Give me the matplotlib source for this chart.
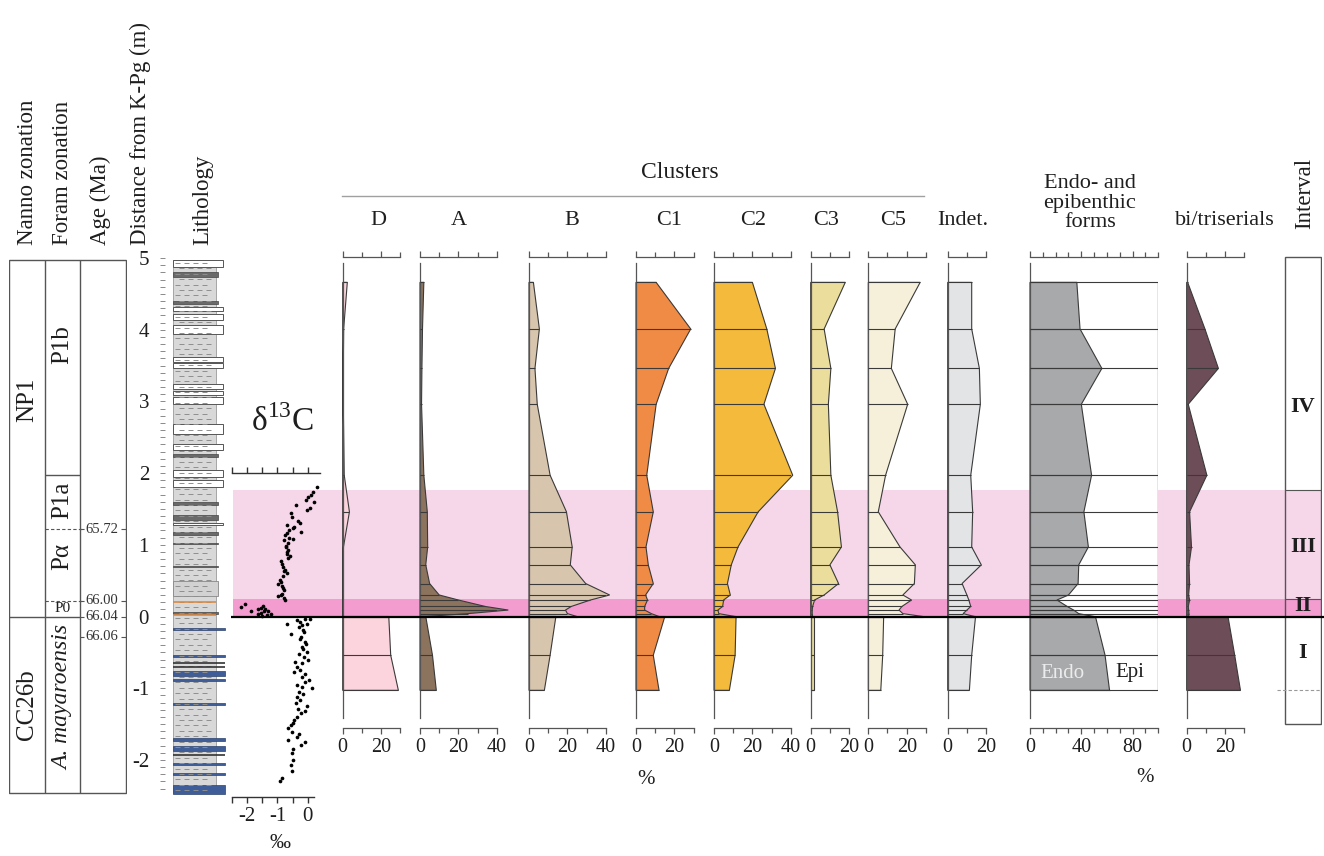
import matplotlib
matplotlib.use('Agg')
import matplotlib.pyplot as plt
from matplotlib.patches import Rectangle
import numpy as np

plt.rcParams['font.family'] = ['Liberation Serif', 'DejaVu Serif']
plt.rcParams['axes.unicode_minus'] = False
plt.rcParams['mathtext.fontset'] = 'custom'
plt.rcParams['mathtext.rm'] = 'Liberation Serif'

W, H = 1324, 856
Y0, PXM = 616.5, 71.7   # pixel row of the K-Pg boundary, pixels per metre

# ---------------- data ----------------
sec_top, sec_bot = 4.97, -2.46

# sample depths (m from K-Pg) above and below the boundary
d_upper = [4.66, 4.01, 3.46, 2.96, 1.97, 1.46, 0.97, 0.72, 0.46, 0.30, 0.23, 0.14, 0.09, 0.04, 0.0]
d_lower = [0.0, -0.54, -1.03]

D_up = [2.4, 0.5, 0.3, 0.3, 0.8, 3.5, 0.4, 0.3, 0.3, 0.3, 0.2, 0.2, 0.2, 0.2, 0.2]
D_lo = [24, 25, 29]
A_up = [2, 1.3, 1, 0.8, 2, 3.8, 4, 3, 5, 10, 20, 34, 46, 25, 3]
A_lo = [3, 6.5, 8.5]
B_up = [2.3, 5.4, 3.1, 4.3, 11, 19.5, 22.5, 21.5, 29.5, 42, 32, 22, 19, 20, 25]
B_lo = [14, 11, 8]
C1_up = [10.5, 28.5, 17, 10.5, 5.6, 9, 5.2, 6.4, 9, 5, 6, 4.5, 4.5, 8, 12]
C1_lo = [15, 9, 12]
C2_up = [20, 27.5, 32, 26, 41, 23, 12.5, 9, 7, 8.5, 5, 4.5, 2, 2.5, 11]
C2_lo = [11.5, 11, 8]
C3_up = [18, 7, 10.5, 9.2, 10.5, 14, 16, 10, 14.5, 7, 2, 1, 0.8, 0.8, 1]
C3_lo = [1.5, 1.5, 1.5]
C5_up = [27, 14, 12, 20.5, 9, 5.2, 16.5, 24.5, 24, 18, 22.5, 17.5, 16, 18, 28.5]
C5_lo = [8, 7.5, 6.5]
Ind_up = [12.5, 12.5, 16.5, 17, 12, 13, 12.5, 17.5, 7.5, 10, 11, 12, 10, 8, 14]
Ind_lo = [14.5, 12.5, 11.3]
Endo_up = [36.5, 39, 56, 40, 48, 42, 45.5, 38, 37.5, 30, 21, 29, 34, 38, 50]
Endo_lo = [51, 58.5, 62]
Bi_up = [0.5, 9.5, 16.5, 0.8, 10.5, 1.5, 2.5, 1.2, 1.5, 1, 1.5, 0.8, 1, 1.2, 1]
Bi_lo = [21.5, 25, 28]

d13c_depth = [1.81, 1.73, 1.70, 1.67, 1.63, 1.59, 1.56, 1.52, 1.48, 1.45, 1.39, 1.33, 1.30, 1.28, 1.25,
              1.23, 1.21, 1.18, 1.16, 1.14, 1.10, 1.08, 1.07, 1.02, 0.99, 0.97, 0.93, 0.90, 0.87, 0.84,
              0.81, 0.77, 0.73, 0.69, 0.65, 0.63, 0.60, 0.56, 0.51, 0.48, 0.46, 0.43, 0.40, 0.37, 0.32,
              0.30, 0.28, 0.26, 0.23,
              0.18, 0.13, 0.07, 0.10, 0.15, 0.11, 0.05, 0.07, 0.02, 0.03, 0.01, 0.04, 0.12, 0.08,
              -0.03, -0.04, -0.05, -0.07, -0.10, -0.10, -0.12, -0.15, -0.19, -0.21, -0.24, -0.28, -0.32,
              -0.35, -0.38, -0.42, -0.45, -0.49, -0.52, -0.56, -0.60, -0.63, -0.65, -0.70, -0.75, -0.78,
              -0.80, -0.84, -0.88, -0.91, -0.95, -0.98, -1.00, -1.05, -1.08, -1.12, -1.17, -1.20, -1.25,
              -1.29, -1.32, -1.35, -1.40, -1.45, -1.49, -1.52, -1.56, -1.61, -1.64, -1.68, -1.72, -1.75,
              -1.79, -1.85, -1.91, -2.00, -2.07, -2.16, -2.25, -2.29]
d13c_val = [0.30, 0.19, 0.11, 0.02, -0.07, 0.22, -0.40, 0.08, -0.03, -0.55, -0.53, -0.33, -0.26, -0.70, -0.45,
            -0.48, -0.62, -0.22, -0.68, -0.75, -0.62, -0.48, -0.78, -0.64, -0.72, -0.72, -0.64, -0.68, -0.70, -0.60,
            -0.64, -0.90, -0.86, -0.81, -0.75, -0.78, -0.70, -0.81, -0.92, -0.90, -0.97, -0.84, -0.83, -0.78, -0.86,
            -0.90, -0.97, -0.80, -0.75,
            -2.08, -2.21, -1.88, -1.64, -1.47, -1.41, -1.54, -1.30, -1.36, -1.66, -1.50, -1.22, -1.55, -1.45,
            0.08, -0.09, -0.36, -0.26, -0.70, -0.03, -0.20, -0.30, -0.15, -0.12, -0.55, -0.22, -0.25,
            -0.09, -0.05, -0.18, -0.15, -0.03, -0.30, -0.11, 0.00, -0.42, -0.20, -0.36, -0.26, -0.45,
            -0.10, -0.18, 0.05, -0.09, -0.35, -0.20, 0.15, -0.29, -0.15, -0.36, -0.26, -0.40, -0.03,
            -0.31, -0.10, -0.22, -0.36, -0.45, -0.48, -0.55, -0.64, -0.53, -0.30, -0.36, -0.65, -0.10,
            -0.22, -0.50, -0.53, -0.48, -0.55, -0.53, -0.85, -0.91]

# lithology beds (bottom, top) in m
lime_beds = [(4.88, 4.97), (4.26, 4.31), (4.13, 4.22), (3.94, 4.07), (3.55, 3.62), (3.46, 3.53),
             (3.17, 3.24), (3.09, 3.15), (2.97, 3.06), (2.55, 2.69), (2.32, 2.41), (1.95, 2.04),
             (1.81, 1.91), (1.27, 1.31)]
dark_beds = [(4.74, 4.81), (4.36, 4.40), (2.22, 2.26), (1.55, 1.59), (1.34, 1.41), (1.14, 1.18),
             (1.01, 1.03), (0.69, 0.71), (0.04, 0.06)]
blue_beds = [(-0.19, -0.16), (-0.57, -0.54), (-0.83, -0.76), (-0.90, -0.87), (-1.23, -1.20),
             (-1.73, -1.70), (-1.87, -1.81), (-2.07, -2.04), (-2.21, -2.18), (-2.47, -2.35)]
black_lines = [-0.65, -0.70, -1.93]
orange_lines = [0.20, 0.02]

# zonation
foram_bounds_solid = [1.97, 0.0]
foram_bounds_dashed = [1.22, 0.22]
age_depth = [1.22, 0.22, 0.0, -0.28]
age_label = ['65.72', '66.00', '66.04', '66.06']

interval_bounds = [5.02, 1.76, 0.25, 0.0, -1.5]
interval_names = ['IV', 'III', 'II', 'I']
interval_label_d = [2.92, 0.97, 0.14, -0.51]
band_II = (0.0, 0.25)
band_III = (0.25, 1.76)

EDGE = '#3a3a3a'
TXT = '#1e1e1e'
AX = '#555555'

fig = plt.figure(figsize=(W / 100, H / 100), dpi=100)


def depth(ypx):
    return (Y0 - ypx) / PXM


def px_axes(x0, x1, top=230, bottom=835):
    ax = fig.add_axes([x0 / W, 1 - bottom / H, (x1 - x0) / W, (bottom - top) / H])
    ax.set_ylim(depth(bottom), depth(top))
    ax.patch.set_visible(False)
    return ax


# background pink bands
bg = px_axes(233, 1321)
bg.set_xlim(0, 1)
bg.axhspan(*band_II, color='#f29cd0', lw=0)
bg.axhspan(*band_III, color='#f6d6e9', lw=0)
bg.axis('off')

# ---------------- zonation table ----------------
zn = px_axes(9, 127)
zn.set_xlim(0, 118)
zn.axis('off')
zn.add_patch(Rectangle((0, sec_bot), 117, sec_top - sec_bot, fill=False, ec=AX, lw=1))
zn.vlines([36, 71], sec_bot, sec_top, color=AX, lw=1)
zn.hlines(0, 0, 71, color=AX, lw=1)
zn.hlines(foram_bounds_solid[0], 36, 71, color=AX, lw=1)
zn.hlines(foram_bounds_dashed, 36, 75, color=AX, lw=0.8, linestyles=(0, (3, 2)))
zn.hlines(age_depth, 71, 75, color=AX, lw=0.8)
zn.hlines(age_depth, 112, 117, color=AX, lw=0.8)
for d, lab in zip(age_depth, age_label):
    zn.text(76.5, d, lab, fontsize=10.5, color='#333', va='center', ha='left')
zn.text(18, depth(400), 'NP1', rotation=90, fontsize=18, ha='center', va='center', color=TXT)
zn.text(18, depth(705), 'CC26b', rotation=90, fontsize=18, ha='center', va='center', color=TXT)
zn.text(53.5, depth(345), 'P1b', rotation=90, fontsize=18, ha='center', va='center', color=TXT)
zn.text(53.5, depth(500), 'P1a', rotation=90, fontsize=18, ha='center', va='center', color=TXT)
zn.text(53.5, depth(557), 'Pα', rotation=90, fontsize=18, ha='center', va='center', color=TXT)
zn.text(53.5, depth(609), 'P0', fontsize=11, ha='center', va='center', color=TXT)
zn.text(53.5, depth(697), 'A. mayaroensis', rotation=90, fontsize=17, style='italic',
        ha='center', va='center', color=TXT)

# ---------------- lithology ----------------
li = px_axes(165, 232)
li.set_xlim(165, 232)
for s in ['top', 'right', 'bottom', 'left']:
    li.spines[s].set_visible(False)
li.set_xticks([])
li.add_patch(Rectangle((173, sec_bot), 43, sec_top - sec_bot, fc='#d8d8d8', ec='#9a9a9a', lw=0.6))
rows = np.arange(sec_bot + 0.04, sec_top - 0.02, 0.075)
for i, r in enumerate(rows):
    starts = np.arange(175 + (4 if i % 2 else 0), 211, 9)
    li.hlines(np.full(len(starts), r), starts, starts + 5, color='#8e8e8e', lw=0.7)
for b, t in lime_beds:
    li.add_patch(Rectangle((173, b), 50, t - b, fc='white', ec='#555', lw=0.7))
for b, t in dark_beds:
    li.add_patch(Rectangle((173, b), 45, t - b, fc='#6a6a6a', ec='#444', lw=0.5))
li.add_patch(Rectangle((173, 0.29), 45, 0.2, fc='#d2d2d2', ec='#888', lw=0.6))
for b, t in blue_beds:
    li.add_patch(Rectangle((173, b), 52, t - b, fc='#3f5d98', ec='#2c426e', lw=0.5))
li.hlines(black_lines, 173, 225, color='#333', lw=1.2)
li.hlines(orange_lines, 173, 216, color='#d98a45', lw=1.2)
li.set_yticks(np.arange(-2, 6, 1))
li.set_yticks(np.arange(-2.4, 5.0, 0.1), minor=True)
li.tick_params(axis='y', which='both', length=3.5, width=0.6, color='#777', direction='out')
li.tick_params(axis='y', which='major', labelsize=15, labelcolor=TXT, pad=8)

# ---------------- delta 13C ----------------
dc = px_axes(232, 322)
dc.set_xlim(-2.507, 0.474)
dc.scatter(d13c_val, d13c_depth, s=7, color='black', lw=0, zorder=3)
dc.spines['left'].set_visible(False)
dc.spines['right'].set_visible(False)
dc.spines['top'].set_position(('data', depth(473)))
dc.spines['top'].set_bounds(-2.5, 0.4)
dc.spines['bottom'].set_position(('data', depth(797)))
dc.spines['bottom'].set_bounds(-2.5, 0.2)
for s in dc.spines.values():
    s.set_color('#333')
    s.set_linewidth(1.0)
dc.set_xticks([-2, -1, 0])
dc.set_xticks(np.arange(-2.5, 0.45, 0.5), minor=True)
dc.tick_params(axis='x', which='both', top=True, bottom=True, direction='out', length=4,
               width=1.0, color='#333', labelsize=15, labelcolor=TXT, pad=3)
dc.set_yticks([])


# ---------------- percentage panels ----------------
def panel(x0, vmax, upper, lower, color, labels, px_per=1.92, step=10):
    ax = px_axes(x0, x0 + vmax * px_per)
    ax.set_xlim(0, vmax)
    for d, v in ((d_upper, upper), (d_lower, lower)):
        xs = np.r_[0, v, 0]
        ys = np.r_[d[0], d, d[-1]]
        ax.fill(xs, ys, fc=color, ec=EDGE, lw=0.8, clip_on=False, zorder=2)
        ax.hlines(d, 0, v, color=EDGE, lw=0.8, zorder=3)
    ax.spines['right'].set_visible(False)
    ax.spines['left'].set_bounds(depth(718), depth(263))
    ax.spines['top'].set_position(('data', depth(257)))
    ax.spines['top'].set_bounds(0, vmax)
    ax.spines['bottom'].set_position(('data', depth(728)))
    ax.spines['bottom'].set_bounds(0, vmax)
    for s in ax.spines.values():
        s.set_color(AX)
        s.set_linewidth(0.9)
    ax.set_xticks(labels)
    ax.set_xticks(np.arange(0, vmax + 0.1, step), minor=True)
    ax.tick_params(axis='x', which='both', top=True, bottom=True, direction='out',
                   color=AX, width=0.9, labelsize=14.5, labelcolor=TXT, pad=3)
    ax.tick_params(axis='x', which='major', length=4.5)
    ax.tick_params(axis='x', which='minor', length=3.5)
    ax.set_yticks([])
    return ax


panel(342.7, 30, D_up, D_lo, '#fbd4dd', [0, 20])
panel(420, 40, A_up, A_lo, '#8c735e', [0, 20, 40])
panel(529, 40, B_up, B_lo, '#d7c5ae', [0, 20, 40])
panel(636, 30, C1_up, C1_lo, '#f08b45', [0, 20])
panel(714, 40, C2_up, C2_lo, '#f4ba3b', [0, 20, 40])
panel(810.7, 20, C3_up, C3_lo, '#ebde9c', [0, 20])
panel(868.3, 30, C5_up, C5_lo, '#f6f0da', [0, 20])
panel(947.7, 20, Ind_up, Ind_lo, '#e3e4e6', [0, 20])
panel(1186.7, 30, Bi_up, Bi_lo, '#6d4d58', [0, 20])

# endo / epi panel
en = panel(1030, 100, Endo_up, Endo_lo, '#a8a9ab', [0, 40, 80], px_per=1.283)
for d, v in ((d_upper, Endo_up), (d_lower, Endo_lo)):
    en.fill_betweenx(d, v, 100, fc='white', ec='none', zorder=1.5)
    en.hlines(d, 0, 100, color=EDGE, lw=0.8, zorder=3)
    en.vlines(100, d[-1], d[0], color=EDGE, lw=0.9, zorder=3)
en.text(25, depth(673), 'Endo', fontsize=15, color='#ececec', ha='center', va='center', zorder=4)
en.text(78, depth(673), 'Epi', fontsize=15, color=TXT, ha='center', va='center', zorder=4)

# ---------------- interval column ----------------
iv = px_axes(1277, 1322)
iv.set_xlim(-0.22, 1.03)
iv.axis('off')
iv.add_patch(Rectangle((0, interval_bounds[-1]), 1, interval_bounds[0] - interval_bounds[-1],
                       fill=False, ec=AX, lw=1))
iv.hlines(interval_bounds[1:3], 0, 1, color=AX, lw=0.8)
iv.hlines(-1.02, -0.22, 1, color='#999', lw=0.8, linestyles=(0, (3, 2)))
for d, name in zip(interval_label_d, interval_names):
    iv.text(0.5, d, name, fontsize=16, fontweight='bold', ha='center', va='center', color=TXT)

# K-Pg boundary line
kp = px_axes(231, 1324)
kp.set_xlim(0, 1)
kp.axis('off')
kp.axhline(0, color='black', lw=1.6)

# ---------------- headers ----------------
ov = fig.add_axes([0, 0, 1, 1])
ov.set_xlim(0, W)
ov.set_ylim(H, 0)
ov.axis('off')
ov.patch.set_visible(False)
for x, s in [(28, 'Nanno zonation'), (62, 'Foram zonation'), (100, 'Age (Ma)'),
             (140, 'Distance from K-Pg (m)'), (203, 'Lithology')]:
    ov.text(x, 245, s, rotation=90, fontsize=16.5, ha='center', va='bottom', color=TXT)
ov.text(1305, 229, 'Interval', rotation=90, fontsize=16.5, ha='center', va='bottom', color=TXT)
ov.text(680, 172, 'Clusters', fontsize=17, ha='center', va='center', color=TXT)
ov.plot([342, 924], [196, 196], color='#a0a0a0', lw=1)
for x, s in [(378, 'D'), (459, 'A'), (572, 'B'), (669, 'C1'), (753, 'C2'), (826, 'C3'),
             (893, 'C5'), (963, 'Indet.'), (1225, 'bi/triserials')]:
    ov.text(x, 220, s, fontsize=16, ha='center', va='center', color=TXT)
ov.text(1090, 203, 'Endo- and\nepibenthic\nforms', fontsize=16, ha='center', va='center',
        linespacing=1.05, color=TXT)
ov.text(282, 422, 'δ$^{13}$C', fontsize=24, ha='center', va='center', color=TXT)
ov.text(280, 843, '‰', fontsize=15, ha='center', va='center', color=TXT)
ov.text(646, 779, '%', fontsize=15, ha='center', va='center', color=TXT)
ov.text(1145, 778, '%', fontsize=15, ha='center', va='center', color=TXT)

fig.savefig('out.png', dpi=100)
plt.close(fig)
